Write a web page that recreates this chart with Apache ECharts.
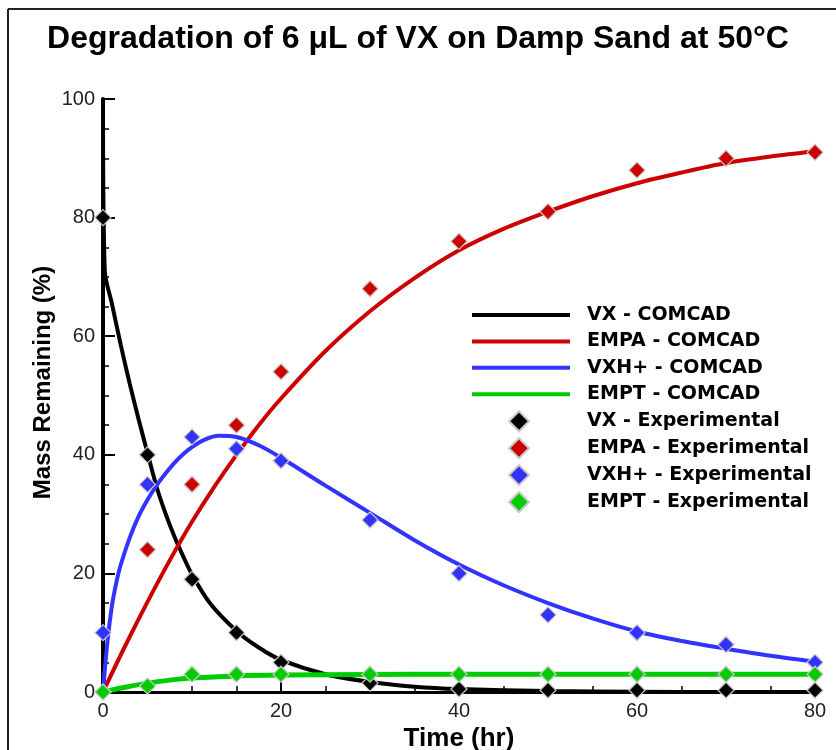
<!DOCTYPE html>
<html>
<head>
<meta charset="utf-8">
<script src="https://cdn.jsdelivr.net/npm/echarts@6/dist/echarts.min.js"></script>
<style>
  html, body { margin: 0; padding: 0; background: #fff; }
  #chart { width: 836px; height: 750px; }
</style>
</head>
<body>
<div id="chart"></div>
<script>
// Sampling times of the experimental measurements (hr)
const expHours = [0, 5, 10, 15, 20, 30, 40, 50, 60, 70, 80];

// Experimental mass remaining (%)
const vxExp   = [80, 40, 19, 10, 5, 1.5, 0.5, 0.3, 0.3, 0.3, 0.3];
const empaExp = [0, 24, 35, 45, 54, 68, 76, 81, 88, 90, 91];
const vxhExp  = [10, 35, 43, 41, 39, 29, 20, 13, 10, 8, 5];
const emptExp = [0, 1, 3, 3, 3, 3, 3, 3, 3, 3, 3];

// COMCAD model curves (time, value)
const vxModelT = [0, 0.2, 1, 2, 3, 4, 5, 6, 7, 8, 9, 10, 12, 15, 17.5, 20, 25, 30, 35, 40, 50, 60, 70, 80];
const vxModel  = [100, 71, 65.5, 58.5, 52, 46, 40.3, 34.7, 30.2, 26.3, 22.9, 19.8, 15, 10.3, 7.5, 5.4, 3.0, 1.7, 0.9, 0.5, 0.15, 0.05, 0, 0];

const empaModelT = [0, 2.5, 5, 7.5, 10, 12.5, 15, 17.5, 20, 25, 30, 35, 40, 45, 50, 55, 60, 65, 70, 75, 80];
const empaModel  = [0, 7.8, 15.2, 22.2, 28.7, 34.6, 40, 45, 49.5, 57.5, 64.2, 69.8, 74.5, 78.1, 81, 83.6, 85.8, 87.6, 89.2, 90.3, 91.2];

const vxhModelT = [0, 0.5, 1, 1.5, 2, 3, 4, 5, 6, 7, 8, 9, 10, 11.5, 13, 15, 17.5, 20, 25, 30, 35, 40, 45, 50, 55, 60, 65, 70, 75, 80];
const vxhModel  = [0, 8.5, 14.5, 18.5, 21.5, 26, 29.6, 32.4, 34.8, 36.8, 38.6, 40.1, 41.3, 42.6, 43.2, 43.0, 41.6, 39.5, 34.8, 30.2, 25.6, 21.5, 18, 15, 12.4, 10.2, 8.6, 7.3, 6.1, 5.1];

const emptModelT = [0, 2.5, 5, 7.5, 10, 15, 20, 30, 40, 80];
const emptModel  = [0, 0.8, 1.5, 2.0, 2.35, 2.7, 2.85, 2.95, 3.0, 3.0];

const xTicks = [0, 20, 40, 60, 80];
const yTicks = [0, 20, 40, 60, 80, 100];

const modelNames = ['VX - COMCAD', 'EMPA - COMCAD', 'VXH+ - COMCAD', 'EMPT - COMCAD'];
const expNames = ['VX - Experimental', 'EMPA - Experimental', 'VXH+ - Experimental', 'EMPT - Experimental'];

const COLORS = { vx: '#000000', empa: '#cc0000', vxh: '#3333ff', empt: '#00cc00' };

const pairs = (xs, ys) => xs.map((x, i) => [x, ys[i]]);

function modelSeries(name, xs, ys, color, width) {
  return {
    name, type: 'line', data: pairs(xs, ys),
    smooth: 0.3, symbol: 'none',
    lineStyle: { color, width }, itemStyle: { color },
    z: 2, silent: true
  };
}
function expSeries(name, ys, color) {
  return {
    name, type: 'scatter', data: pairs(expHours, ys),
    symbol: 'diamond', symbolSize: 16,
    itemStyle: { color, borderColor: '#c8c8c8', borderWidth: 1.2, opacity: 1 },
    z: 3, silent: true
  };
}

const legendText = { fontFamily: 'DejaVu Sans', fontWeight: 'bold', fontSize: 19, color: '#000' };
const tickFont = 'Liberation Sans, Arial, sans-serif';

const chart = echarts.init(document.getElementById('chart'), null, { renderer: 'canvas' });

chart.setOption({
  animation: false,
  backgroundColor: '#ffffff',
  title: {
    text: 'Degradation of 6 μL of VX on Damp Sand at 50°C',
    left: 'center', top: 18,
    textStyle: { fontFamily: 'Liberation Sans, Arial, sans-serif', fontWeight: 'bold', fontSize: 32, color: '#000' }
  },
  graphic: [
    { type: 'line', shape: { x1: 8, y1: 9, x2: 836, y2: 9 }, style: { stroke: '#222', lineWidth: 2 } },
    { type: 'line', shape: { x1: 8, y1: 9, x2: 8, y2: 750 }, style: { stroke: '#222', lineWidth: 2 } }
  ],
  legend: [
    {
      data: modelNames,
      orient: 'vertical', left: 470, top: 305.5, padding: 0,
      itemWidth: 98, itemHeight: 16, itemGap: 7.4,
      selectedMode: false,
      itemStyle: { opacity: 0 },
      lineStyle: { width: 4 },
      textStyle: Object.assign({ padding: [0, 0, 0, 12] }, legendText)
    },
    {
      data: expNames,
      orient: 'vertical', left: 508, top: 410.3, padding: 0,
      itemWidth: 20, itemHeight: 20, itemGap: 4.9,
      selectedMode: false,
      textStyle: Object.assign({ padding: [0, 0, 0, 53] }, legendText)
    }
  ],
  grid: { left: 103, right: 21, top: 99, bottom: 58, containLabel: false, outerBoundsMode: 'none' },
  xAxis: {
    type: 'value', min: 0, max: 80, interval: 20,
    name: 'Time (hr)', nameLocation: 'middle', nameGap: 32,
    nameTextStyle: { fontFamily: 'Liberation Sans, Arial, sans-serif', fontWeight: 'bold', fontSize: 26, color: '#000' },
    axisLine: { show: true, onZero: false, lineStyle: { color: '#000', width: 3 } },
    axisTick: { show: true, inside: true, length: 11, lineStyle: { color: '#000', width: 2 } },
    minorTick: { show: true, splitNumber: 4, length: 6, lineStyle: { color: '#000', width: 1.5 } },
    axisLabel: {
      margin: 9, color: '#222', fontSize: 20, fontFamily: tickFont,
      formatter: v => (xTicks.includes(v) ? String(v) : '')
    },
    splitLine: { show: false }
  },
  yAxis: {
    type: 'value', min: 0, max: 100, interval: 20,
    name: 'Mass Remaining (%)', nameLocation: 'middle', nameGap: 48, nameRotate: 90,
    nameMoveOverlap: false,
    nameTextStyle: { fontFamily: 'Liberation Sans, Arial, sans-serif', fontWeight: 'bold', fontSize: 24, color: '#000', padding: [0, 0, 0, 26] },
    axisLine: { show: true, onZero: false, lineStyle: { color: '#000', width: 4 } },
    axisTick: { show: true, inside: true, length: 12, lineStyle: { color: '#000', width: 2 } },
    minorTick: { show: true, splitNumber: 4, length: 6, lineStyle: { color: '#000', width: 1.5 } },
    axisLabel: {
      margin: 8, color: '#222', fontSize: 20, fontFamily: tickFont,
      verticalAlign: 'middle',
      verticalAlignMinLabel: 'middle', verticalAlignMaxLabel: 'middle',
      formatter: v => (yTicks.includes(v) ? String(v) : '')
    },
    splitLine: { show: false }
  },
  series: [
    modelSeries(modelNames[0], vxModelT, vxModel, COLORS.vx, 4),
    modelSeries(modelNames[1], empaModelT, empaModel, COLORS.empa, 4),
    modelSeries(modelNames[2], vxhModelT, vxhModel, COLORS.vxh, 4),
    modelSeries(modelNames[3], emptModelT, emptModel, COLORS.empt, 5),
    expSeries(expNames[0], vxExp, COLORS.vx),
    expSeries(expNames[1], empaExp, COLORS.empa),
    expSeries(expNames[2], vxhExp, COLORS.vxh),
    expSeries(expNames[3], emptExp, COLORS.empt)
  ]
});
</script>
</body>
</html>
